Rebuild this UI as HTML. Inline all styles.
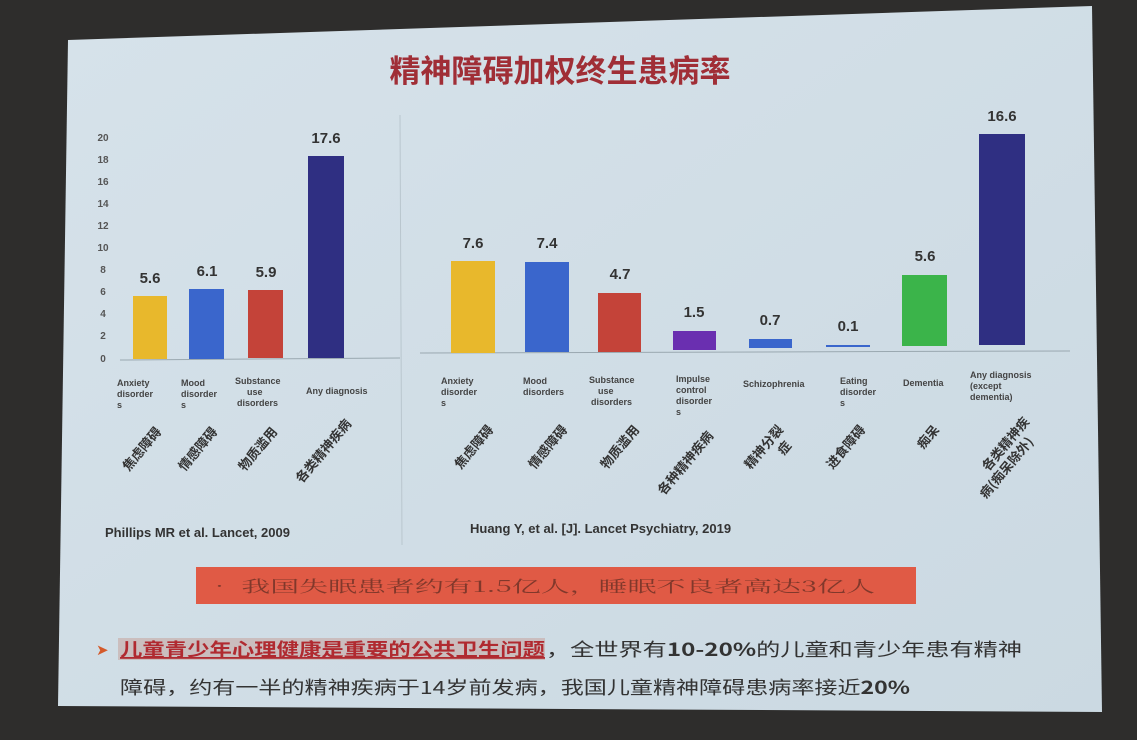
<!DOCTYPE html>
<html><head><meta charset="utf-8"><style>
html,body{margin:0;padding:0;width:1137px;height:740px;overflow:hidden;background:#2b2a2a;}
svg{display:block}
</style></head><body>
<svg width="1137" height="740" viewBox="0 0 1137 740" font-family="Liberation Sans, Noto Sans CJK SC, sans-serif">
<defs><linearGradient id="bg" x1="0" y1="0" x2="1" y2="1"><stop offset="0" stop-color="#d6e2ea"/><stop offset="1" stop-color="#cbd9e2"/></linearGradient></defs>
<rect width="1137" height="740" fill="#2e2d2c"/>
<polygon points="68,40 1092,6 1102,712 58,706" fill="url(#bg)"/>
<text x="560" y="82" text-anchor="middle" font-size="31" font-weight="bold" fill="#a02e36" font-family="Noto Sans CJK SC, sans-serif">精神障碍加权终生患病率</text>
<line x1="400" y1="115" x2="402" y2="545" stroke="#b9c6ce" stroke-width="1"/>
<g font-size="10" font-weight="bold" fill="#555" text-anchor="middle">
<text x="103" y="141">20</text><text x="103" y="163">18</text><text x="103" y="185">16</text><text x="103" y="207">14</text><text x="103" y="229">12</text><text x="103" y="251">10</text><text x="103" y="273">8</text><text x="103" y="295">6</text><text x="103" y="317">4</text><text x="103" y="339">2</text><text x="103" y="362">0</text>
</g>
<line x1="120" y1="360" x2="400" y2="358" stroke="#9aa8b0"/>
<rect x="133" y="296" width="34" height="63" fill="#e8b82c"/>
<rect x="189" y="289" width="35" height="70" fill="#3a66cc"/>
<rect x="248" y="290" width="35" height="68" fill="#c44339"/>
<rect x="308" y="156" width="36" height="202" fill="#2f2f82"/>
<g font-size="15" font-weight="bold" fill="#333" text-anchor="middle">
<text x="150" y="283">5.6</text><text x="207" y="276">6.1</text><text x="266" y="277">5.9</text><text x="326" y="143">17.6</text>
<text x="473" y="248">7.6</text><text x="547" y="248">7.4</text><text x="620" y="279">4.7</text><text x="694" y="317">1.5</text><text x="770" y="325">0.7</text><text x="848" y="331">0.1</text><text x="925" y="261">5.6</text><text x="1002" y="121">16.6</text>
</g>
<line x1="420" y1="353" x2="1070" y2="351" stroke="#9aa8b0"/>
<rect x="451" y="261" width="44" height="92" fill="#e8b82c"/>
<rect x="525" y="262" width="44" height="90" fill="#3a66cc"/>
<rect x="598" y="293" width="43" height="59" fill="#c44339"/>
<rect x="673" y="331" width="43" height="19" fill="#6a2fb0"/>
<rect x="749" y="339" width="43" height="9" fill="#3a66cc"/>
<rect x="826" y="345" width="44" height="2" fill="#3a66cc"/>
<rect x="902" y="275" width="45" height="71" fill="#3bb44a"/>
<rect x="979" y="134" width="46" height="211" fill="#2f2f82"/>
<g font-size="9" fill="#444" font-weight="bold">
<text x="117" y="386">Anxiety</text><text x="117" y="397">disorder</text><text x="117" y="408">s</text>
<text x="181" y="386">Mood</text><text x="181" y="397">disorder</text><text x="181" y="408">s</text>
<text x="235" y="384">Substance</text><text x="247" y="395">use</text><text x="237" y="406">disorders</text>
<text x="306" y="394">Any diagnosis</text>
<text x="441" y="384">Anxiety</text><text x="441" y="395">disorder</text><text x="441" y="406">s</text>
<text x="523" y="384">Mood</text><text x="523" y="395">disorders</text>
<text x="589" y="383">Substance</text><text x="598" y="394">use</text><text x="591" y="405">disorders</text>
<text x="676" y="382">Impulse</text><text x="676" y="393">control</text><text x="676" y="404">disorder</text><text x="676" y="415">s</text>
<text x="743" y="387">Schizophrenia</text>
<text x="840" y="384">Eating</text><text x="840" y="395">disorder</text><text x="840" y="406">s</text>
<text x="903" y="386">Dementia</text>
<text x="970" y="378">Any diagnosis</text><text x="970" y="389">(except</text><text x="970" y="400">dementia)</text>
</g>
<g font-size="13" font-weight="bold" fill="#333" font-family="Noto Sans CJK SC, sans-serif" text-anchor="end">
<text transform="translate(162,432) rotate(-50)">焦虑障碍</text>
<text transform="translate(218,432) rotate(-50)">情感障碍</text>
<text transform="translate(278,432) rotate(-50)">物质滥用</text>
<text transform="translate(352,424) rotate(-50)">各类精神疾病</text>
<text transform="translate(494,430) rotate(-50)">焦虑障碍</text>
<text transform="translate(568,430) rotate(-50)">情感障碍</text>
<text transform="translate(640,430) rotate(-50)">物质滥用</text>
<text transform="translate(714,436) rotate(-50)">各种精神疾病</text>
<text transform="translate(784,430) rotate(-50)">精神分裂</text>
<text transform="translate(792,446) rotate(-50)">症</text>
<text transform="translate(866,430) rotate(-50)">进食障碍</text>
<text transform="translate(940,430) rotate(-50)">痴呆</text>
<text transform="translate(1030,422) rotate(-50)">各类精神疾</text>
<text transform="translate(1034,442) rotate(-50)">病(痴呆除外)</text>
</g>
<text x="105" y="537" font-size="13" font-weight="bold" fill="#333">Phillips MR  et al. Lancet, 2009</text>
<text x="470" y="533" font-size="13" font-weight="bold" fill="#333">Huang Y, et al. [J]. Lancet Psychiatry, 2019</text>
<rect x="196" y="567" width="720" height="37" fill="#e05a45"/>
<text x="205" y="592" font-size="16" fill="#6a3025" opacity="0.8" font-family="Noto Serif CJK SC, serif" textLength="670" lengthAdjust="spacingAndGlyphs">•  我国失眠患者约有1.5亿人，睡眠不良者高达3亿人</text>
<text x="96" y="655" font-size="15" fill="#d45a2a">➤</text>
<rect x="118" y="638" width="427" height="22" fill="#c7a9a3" opacity="0.6"/>
<text x="120" y="656" font-size="18" font-weight="bold" fill="#b02a30" font-family="Noto Sans CJK SC, sans-serif" text-decoration="underline" textLength="425" lengthAdjust="spacingAndGlyphs">儿童青少年心理健康是重要的公共卫生问题</text>
<text x="546" y="656" font-size="18" fill="#333" font-family="Noto Sans CJK SC, sans-serif" textLength="476" lengthAdjust="spacingAndGlyphs">，全世界有<tspan font-weight="bold">10-20%</tspan>的儿童和青少年患有精神</text>
<text x="120" y="694" font-size="18" fill="#333" font-family="Noto Sans CJK SC, sans-serif" textLength="790" lengthAdjust="spacingAndGlyphs">障碍，约有一半的精神疾病于14岁前发病，我国儿童精神障碍患病率接近<tspan font-weight="bold">20%</tspan></text>
</svg>
</body></html>
